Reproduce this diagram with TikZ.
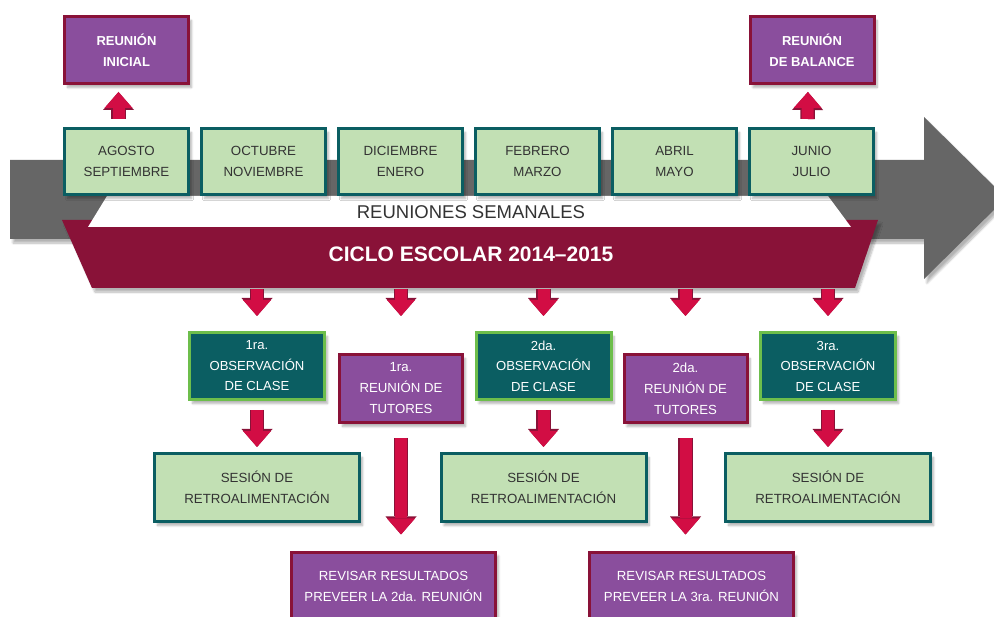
\documentclass[tikz,border=0pt]{standalone}
\usepackage{fontspec}
\setmainfont{Liberation Sans}
\usetikzlibrary{arrows.meta,shadows.blur}
\definecolor{verdeclaro}{HTML}{C2E0B4}
\definecolor{verdeborde}{HTML}{6DBE4B}
\definecolor{petroleo}{HTML}{0B5E62}
\definecolor{morado}{HTML}{8A4E9D}
\definecolor{granate}{HTML}{891238}
\definecolor{rojo}{HTML}{D20D44}
\definecolor{gris}{HTML}{666666}
\definecolor{texto}{HTML}{333333}
\begin{document}
\begin{tikzpicture}[x=1pt, y=-1pt,
sombra/.style={blur shadow={shadow xshift=3pt, shadow yshift=-4pt, shadow blur steps=8, shadow opacity=30}},
mes/.style={rectangle, draw=petroleo, fill=verdeclaro, line width=3pt, text=texto, align=center, inner sep=0pt, minimum width=124pt, minimum height=66pt, font=\fontsize{13.3}{21}\selectfont, sombra},
ses/.style={mes, minimum width=205pt, minimum height=68pt},
obs/.style={rectangle, draw=verdeborde, fill=petroleo, line width=3pt, text=white, align=center, inner sep=0pt, minimum width=135pt, minimum height=67pt, font=\fontsize{13.1}{20.5}\selectfont, sombra},
mor/.style={rectangle, draw=granate, fill=morado, line width=3pt, text=white, align=center, inner sep=0pt, minimum width=123pt, minimum height=68pt, font=\fontsize{13.2}{21}\selectfont, sombra},
flecha/.style={line width=12pt, draw=rojo, -{Triangle[width=28pt 0, length=16pt 0, line width=0pt 0 0]},
  preaction={draw=granate, line width=14.5pt, -{Triangle[width=31pt 0, length=18pt 0, line width=0pt 0 0]}}}]
\useasboundingbox (0,0) rectangle (994,617);
\clip (0,0) rectangle (994,617);

% fondo
\fill[gris, sombra] (10,160) -- (924,160) -- (924,117) -- (1006,198) -- (924,279) -- (924,239) -- (10,239) -- cycle;
\fill[granate, sombra] (62,220) -- (878,220) -- (855,288) -- (92,288) -- cycle;
\fill[white] (107,196) -- (828,196) -- (851,227) -- (88,227) -- cycle;
\node[text=texto, font=\fontsize{18.5}{22}\selectfont] (semanal) at (471,212) {REUNIONES SEMANALES};
\node[text=white, font=\bfseries\fontsize{21}{25}\selectfont] (ciclo) at (471,254) {CICLO ESCOLAR 2014–2015};
\coordinate (banda) at (0,289);

\node[mor, font=\bfseries\fontsize{13}{21}\selectfont, minimum width=124pt, minimum height=67pt] (ini) at (126.5,50) {REUNIÓN\\INICIAL};
\node[mor, font=\bfseries\fontsize{13}{21}\selectfont, minimum width=124pt, minimum height=67pt] (bal) at (812,50) {REUNIÓN\\DE BALANCE};

\node[mes] (mes0) at (126.5,161.5) {AGOSTO\\SEPTIEMBRE};
\node[mes] (mes1) at (263.5,161.5) {OCTUBRE\\NOVIEMBRE};
\node[mes] (mes2) at (400.5,161.5) {DICIEMBRE\\ENERO};
\node[mes] (mes3) at (537.5,161.5) {FEBRERO\\MARZO};
\node[mes] (mes4) at (674.5,161.5) {ABRIL\\MAYO};
\node[mes] (mes5) at (811.5,161.5) {JUNIO\\JULIO};

\node[obs] (obs1) at (257,366) {1ra.\\OBSERVACIÓN\\DE CLASE};
\node[obs] (obs2) at (543.5,366) {2da.\\OBSERVACIÓN\\DE CLASE};
\node[obs] (obs3) at (828,366) {3ra.\\OBSERVACIÓN\\DE CLASE};
\node[mor] (tut1) at (401,388.5) {1ra.\\REUNIÓN DE\\TUTORES};
\node[mor] (tut2) at (685.5,388.5) {2da.\\REUNIÓN DE\\TUTORES};

\node[ses] (ses1) at (257,487.5) {SESIÓN DE\\RETROALIMENTACIÓN};
\node[ses] (ses2) at (543.5,487.5) {SESIÓN DE\\RETROALIMENTACIÓN};
\node[ses] (ses3) at (828,487.5) {SESIÓN DE\\RETROALIMENTACIÓN};
\node[mor, minimum width=204pt] (rev1) at (393.5,586) {REVISAR RESULTADOS\\PREVEER LA 2da. REUNIÓN};
\node[mor, minimum width=204pt] (rev2) at (691.5,586) {REVISAR RESULTADOS\\PREVEER LA 3ra. REUNIÓN};

\draw[flecha, shorten <=8pt, shorten >=7pt] ([xshift=-8pt]mes0.north) -- ([xshift=-8pt]ini.south);
\draw[flecha, shorten <=8pt, shorten >=7pt] ([xshift=-4pt]mes5.north) -- ([xshift=-4pt]bal.south);
\draw[flecha, shorten >=15pt] (obs1.north |- banda) -- (obs1.north);
\draw[flecha, shorten >=37pt] (tut1.north |- banda) -- (tut1.north);
\draw[flecha, shorten >=15pt] (obs2.north |- banda) -- (obs2.north);
\draw[flecha, shorten >=37pt] (tut2.north |- banda) -- (tut2.north);
\draw[flecha, shorten >=15pt] (obs3.north |- banda) -- (obs3.north);
\draw[flecha, shorten <=9pt, shorten >=5pt] (obs1.south) -- (ses1.north);
\draw[flecha, shorten <=9pt, shorten >=5pt] (obs2.south) -- (ses2.north);
\draw[flecha, shorten <=9pt, shorten >=5pt] (obs3.south) -- (ses3.north);
\draw[flecha, shorten <=14pt, shorten >=16pt] (tut1.south) -- (tut1.south |- rev1.north);
\draw[flecha, shorten <=14pt, shorten >=16pt] (tut2.south) -- (tut2.south |- rev2.north);

\end{tikzpicture}
\end{document}
